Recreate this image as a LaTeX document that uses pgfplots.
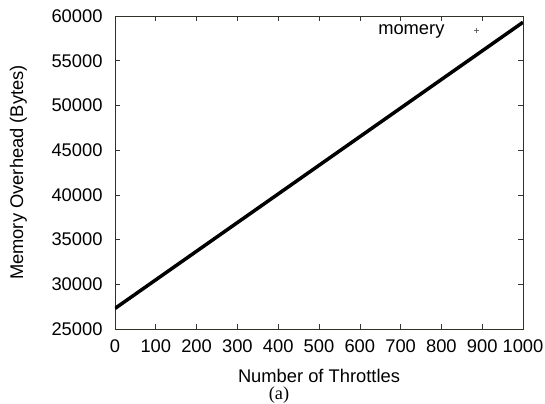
\documentclass[border=0pt]{standalone}
\usepackage{pgfplots}
\pgfplotsset{compat=1.18}
\usepackage{fontspec}
\setmainfont{Liberation Sans}
\newfontfamily\serifa{Liberation Serif}
\begin{document}
\begin{tikzpicture}
\begin{axis}[
  name=ax,
  scale only axis,
  width=408bp, height=313bp,
  xmin=0, xmax=1000, ymin=25000, ymax=60000,
  xtick={0,100,...,1000},
  ytick={25000,30000,...,60000},
  scaled ticks=false,
  tick align=inside,
  major tick length=5bp,
  tick style={black!80, line width=0.6pt},
  axis line style={black!85!olive, line width=0.8pt},
  /pgf/number format/assume math mode=true,
  /pgf/number format/set thousands separator={},
  /pgf/number format/fixed,
  ticklabel style={font=\fontsize{18.4}{21}\selectfont},
  xticklabel style={yshift=-7bp},
  yticklabel style={xshift=-9bp},
  xlabel={Number of Throttles},
  ylabel={Memory Overhead (Bytes)},
  label style={font=\fontsize{18.4}{21}\selectfont},
  xlabel style={at={(axis description cs:0.5,-0.150)}, anchor=center},
  ylabel style={at={(axis description cs:-0.2365,0.5)}, anchor=center},
  legend style={draw=none, fill=none, at={(0.893,0.955)}, anchor=east,
    font=\fontsize{18.4}{21}\selectfont, inner sep=0pt},
  legend cell align=right,
  legend plot pos=right,
  legend image code/.code={\path[draw=none,fill=none] (0,0) -- (30bp,0);\draw[black!60, line width=0.4pt] (30bp,-2.5bp) -- (30bp,2.5bp) (27.5bp,0) -- (32.5bp,0);},
]
\addplot[black, line width=3.5pt] coordinates {
  (0,27300) (100,30500) (200,33700) (300,36900) (400,40100) (500,43300)
  (600,46500) (700,49700) (800,52900) (900,56100) (1000,59300)
};
\addlegendentry{momery}
\end{axis}
\node[font=\serifa\fontsize{18.4}{21}\selectfont] at ([xshift=-40bp,yshift=-66bp]ax.south) {(a)};
\pgfresetboundingbox
\path[use as bounding box] ([xshift=-115bp,yshift=-75bp]ax.south west) rectangle ([xshift=22bp,yshift=16bp]ax.north east);
\end{tikzpicture}
\end{document}
